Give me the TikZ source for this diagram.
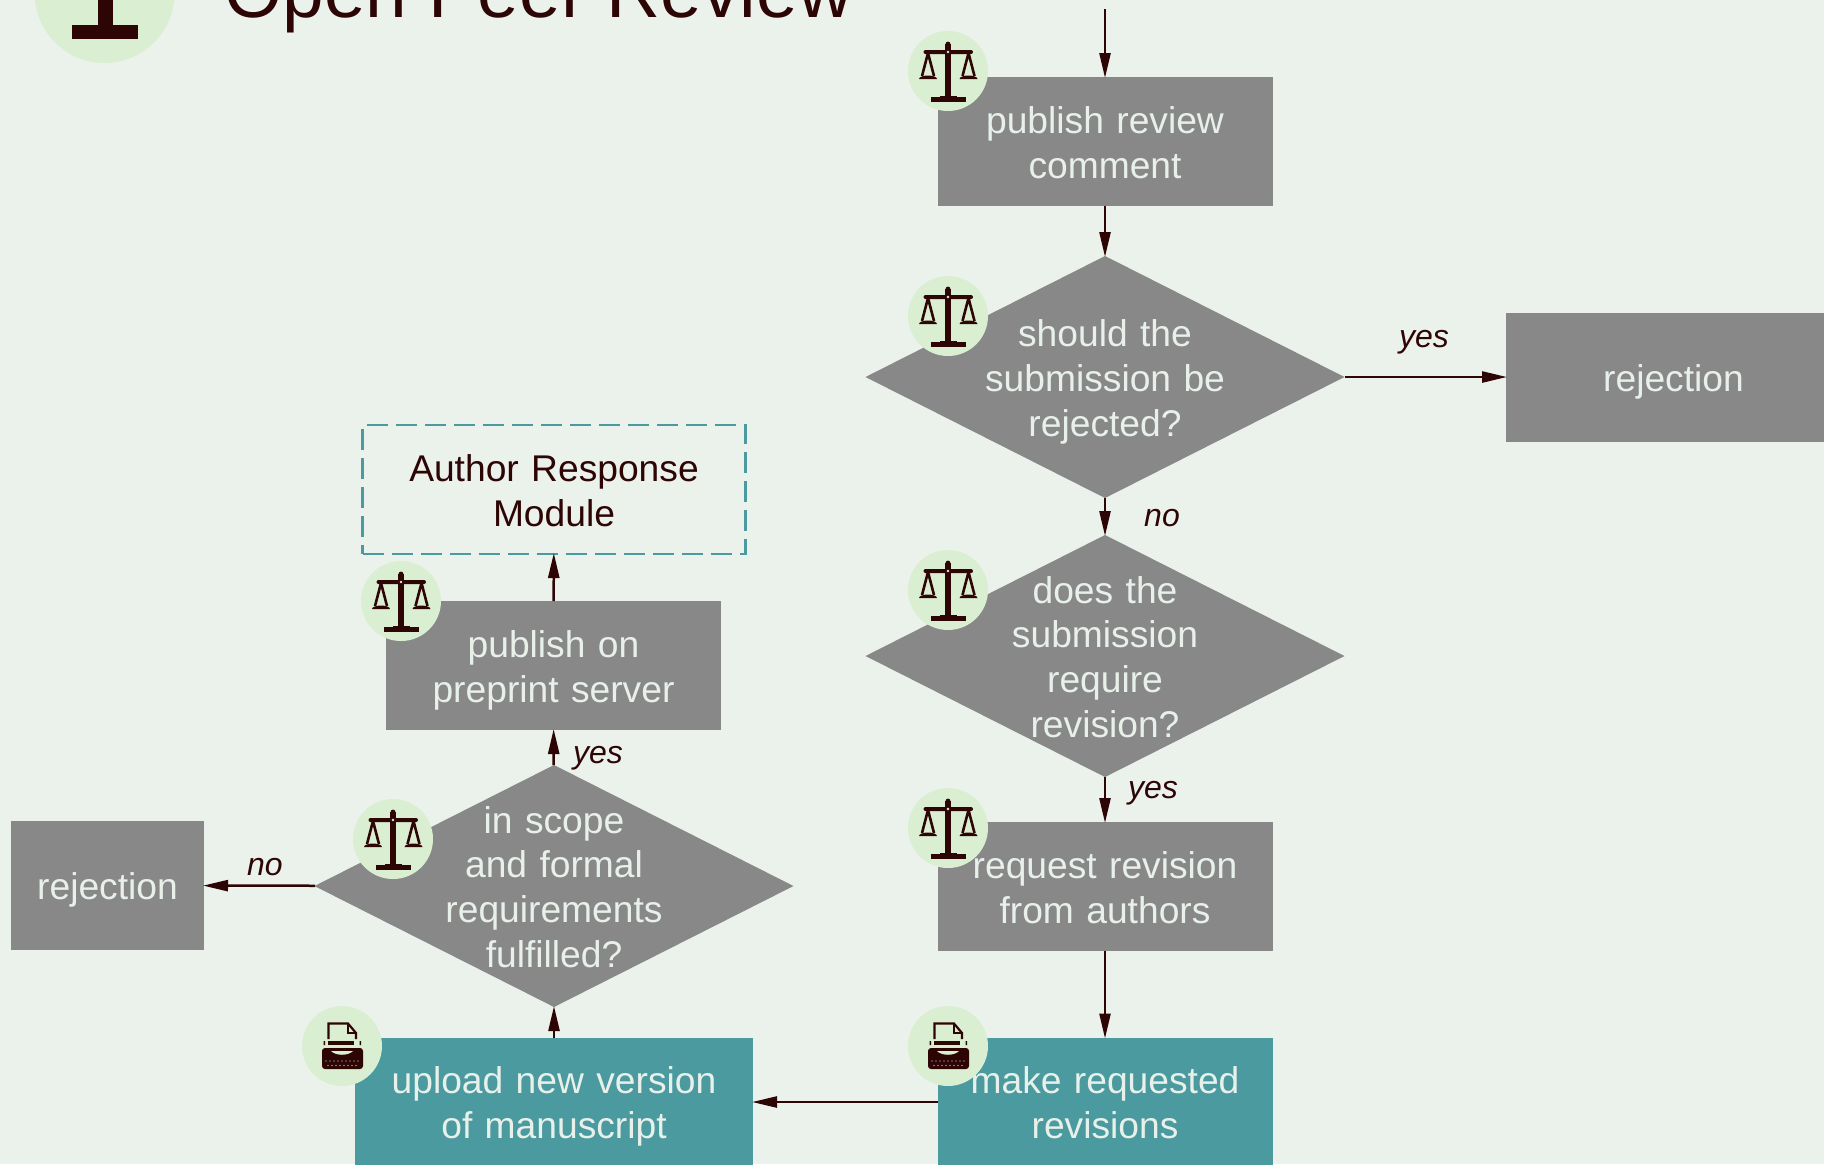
\documentclass[tikz,border=0pt]{standalone}
\usepackage{fontspec}
\setmainfont{Liberation Sans}
\usetikzlibrary{arrows.meta,shapes.geometric}
\definecolor{paper}{HTML}{EBF2EC}
\definecolor{ink}{HTML}{2E0505}
\definecolor{stepgray}{HTML}{888888}
\definecolor{stepteal}{HTML}{4A9A9F}
\definecolor{badgegreen}{HTML}{DAEED2}
\definecolor{steptext}{HTML}{E8F0EA}
\newcommand{\stepstrut}{\rule[-4.1pt]{0pt}{22.4pt}}
\tikzset{
  steptype/.style={font=\fontsize{18.6}{22.4}\selectfont,text=steptext,align=center,text width=160pt,execute at begin node=\stepstrut,execute at end node=\stepstrut},
  stepbox/.style={steptype,fill=stepgray,minimum width=167.5pt,minimum height=64.5pt,inner sep=0pt,outer sep=0pt},
  tealbox/.style={stepbox,fill=stepteal},
  askbox/.style={diamond,fill=stepgray,minimum width=239.5pt,minimum height=121pt,inner sep=0pt,outer sep=0pt},
  asktext/.style={steptype,inner sep=0pt},
  modulebox/.style={steptype,draw=stepteal,line width=1.4pt,dash pattern=on 10.5pt off 4pt,text=ink,minimum width=191.5pt,minimum height=64.5pt,inner sep=0pt,outer sep=0pt},
  badge/.style={circle,fill=badgegreen,minimum size=40pt,inner sep=0pt},
  flow/.style={draw=ink,line width=1.25pt,shorten >=-.5pt,-{Triangle[length=12.5pt,width=5.5pt]}},
  flowtext/.style={font=\fontsize{16}{19}\itshape,text=ink,execute at begin node=\strut},
  pics/scales/.style={code={
    \fill[ink] (-2.6,-27) rectangle (2.6,25);
    \fill[ink] (0,-27) circle (2.4);
    \fill[ink,rounded corners=1pt] (-24.5,-21) rectangle (25,-17);
    \fill[badgegreen] (0,-19) circle (1.3);
    \fill[ink] (-8,25) rectangle (9,27);
    \fill[ink] (-17.5,26) rectangle (18,30.5);
    \foreach \panx in {-20,20.5}{
      \draw[ink,line width=1.3pt] (\panx,-18) -- (\panx-6,5) (\panx,-18) -- (\panx+6,5);
      \fill[ink] (\panx-9,8) -- (\panx+9,8) arc (0:-180:9 and 3.5) -- cycle;
    }
  }},
  pics/typewriter/.style={code={
    \draw[ink,line width=1.1pt] (-13.5,-7) -- (-13.5,-22.5) -- (6,-22.5) -- (14,-13) -- (14,-7);
    \draw[ink,line width=.8pt] (6,-22.5) -- (6,-13) -- (14,-13);
    \fill[ink] (-14,-5) rectangle (12,-1);
    \fill[ink] (-18.5,-5) rectangle (-17,-1) (17.5,-5) rectangle (19,-1);
    \fill[ink,rounded corners=1.5pt] (-20,2) rectangle (21,23);
    \fill[badgegreen] (-11,5) .. controls (-6,10) and (6,10) .. (11,5) -- cycle;
    \foreach \keyx in {-16,-12,...,16}{\fill[badgegreen] (\keyx,15) circle (.7);}
    \foreach \keyx in {-14,-10,...,14}{\fill[badgegreen] (\keyx,19.5) circle (.7);}
  }}
}
\begin{document}
\begin{tikzpicture}[x=0.5pt,y=-0.5pt]
  \useasboundingbox (0,0) rectangle (1824,1164);
  \fill[paper] (0,0) rectangle (1824,1164);
  % title
  \node[circle,fill=badgegreen,minimum size=70pt,inner sep=0pt] (mark) at (104.5,-7) {};
  \fill[ink] (97.5,-10) rectangle (113,26);
  \fill[ink] (72,25) rectangle (138,39);
  \node[anchor=base west,inner sep=0pt,text=ink,font=\fontsize{37.4}{44}\selectfont] (title) at (224,17) {Open Peer Review};
  % right column
  \coordinate (start) at (1105,9);
  \node[stepbox] (comment) at (1105,141.5) {publish review\\comment};
  \node[askbox,label={[asktext]center:should the\\submission be\\rejected?}] (reject) at (1105,377) {};
  \node[askbox,label={[asktext]center:does the\\submission\\require\\revision?}] (revise) at (1105,656) {};
  \node[stepbox] (rejectA) at (1673.5,377) {rejection};
  \node[stepbox] (request) at (1105,886.5) {request revision\\from authors};
  \node[tealbox] (make) at (1105,1102) {make requested\\revisions};
  % left column
  \node[tealbox,minimum width=199pt,text width=190pt] (upload) at (554,1102) {upload new version\\of manuscript};
  \node[askbox,label={[asktext]center:in scope\\and formal\\requirements\\fulfilled?}] (scope) at (554,886) {};
  \node[stepbox,minimum width=96.5pt,text width=90pt] (rejectB) at (107.5,885.5) {rejection};
  \node[stepbox] (preprint) at (553.5,665.5) {publish on\\preprint server};
  \node[modulebox] (module) at (554,489.5) {Author Response\\Module};
  % connectors
  \draw[flow] (start) -- (comment);
  \draw[flow] (comment) -- (reject);
  \draw[flow] (reject) -- (revise);
  \draw[flow] (reject) -- (rejectA);
  \draw[flow] (revise) -- (request);
  \draw[flow] (request) -- (make);
  \draw[flow] (make) -- (upload);
  \draw[flow] (upload) -- (scope);
  \draw[flow] (scope) -- (preprint);
  \draw[flow] (scope) -- (rejectB);
  \draw[flow] (preprint) -- (module);
  % labels
  \node[flowtext] (yesA) at (1424,340) {yes};
  \node[flowtext] (noA) at (1162,519) {no};
  \node[flowtext] (yesB) at (1153,791) {yes};
  \node[flowtext] (yesC) at (598,756) {yes};
  \node[flowtext] (noB) at (265,868) {no};
  % badges
  \foreach \badgename/\badgex/\badgey in {a/948/71,b/948/316,c/948/590,d/948/828,e/401/601,f/393/839}{
    \node[badge] (badge\badgename) at (\badgex,\badgey) {};
    \pic at (badge\badgename) {scales};
  }
  \foreach \badgename/\badgex/\badgey in {g/948/1046,h/342/1046}{
    \node[badge] (badge\badgename) at (\badgex,\badgey) {};
    \pic at (badge\badgename) {typewriter};
  }
\end{tikzpicture}
\end{document}
